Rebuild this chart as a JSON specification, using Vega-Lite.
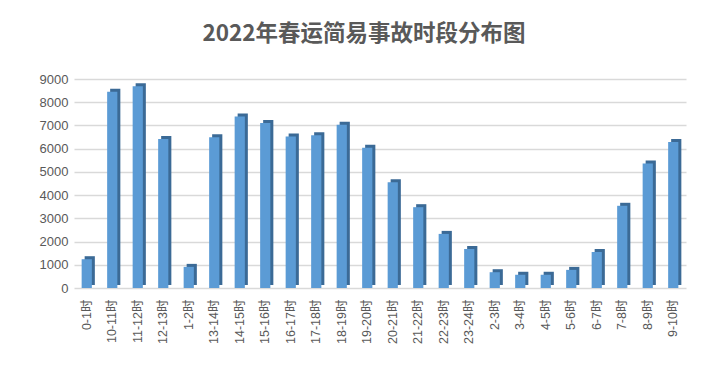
{
  "$schema": "https://vega.github.io/schema/vega-lite/v6.json",
  "width": 612,
  "height": 209,
  "autosize": "none",
  "padding": {"left": 74, "top": 79, "right": 42, "bottom": 80},
  "background": "white",
  "title": {
    "text": "2022年春运简易事故时段分布图",
    "font": "Noto Sans CJK SC",
    "fontSize": 22.5,
    "fontWeight": "bold",
    "color": "#595959",
    "anchor": "middle",
    "dx": -16,
    "offset": 28
  },
  "data": {
    "values": [
      {"t": "0-1时", "v": 1240},
      {"t": "10-11时", "v": 8450},
      {"t": "11-12时", "v": 8690},
      {"t": "12-13时", "v": 6420},
      {"t": "1-2时", "v": 910},
      {"t": "13-14时", "v": 6490},
      {"t": "14-15时", "v": 7390},
      {"t": "15-16时", "v": 7100},
      {"t": "16-17时", "v": 6520},
      {"t": "17-18时", "v": 6580},
      {"t": "18-19时", "v": 7030},
      {"t": "19-20时", "v": 6040},
      {"t": "20-21时", "v": 4550},
      {"t": "21-22时", "v": 3480},
      {"t": "22-23时", "v": 2330},
      {"t": "23-24时", "v": 1680},
      {"t": "2-3时", "v": 680},
      {"t": "3-4时", "v": 570},
      {"t": "4-5时", "v": 570},
      {"t": "5-6时", "v": 780},
      {"t": "6-7时", "v": 1550},
      {"t": "7-8时", "v": 3540},
      {"t": "8-9时", "v": 5360},
      {"t": "9-10时", "v": 6290}
    ]
  },
  "encoding": {
    "x": {
      "field": "t",
      "type": "nominal",
      "sort": null,
      "scale": {"paddingInner": 0.6, "paddingOuter": 0.3},
      "axis": {
        "title": null,
        "labelAngle": -90,
        "labelFont": "Liberation Sans, Noto Sans CJK SC",
        "labelFontSize": 12.5,
        "labelColor": "#595959",
        "labelPadding": 11,
        "ticks": false,
        "domain": false
      }
    },
    "y": {
      "field": "v",
      "type": "quantitative",
      "scale": {"domain": [0, 9000], "nice": false},
      "axis": {
        "title": null,
        "values": [0, 1000, 2000, 3000, 4000, 5000, 6000, 7000, 8000, 9000],
        "format": "d",
        "labelFont": "Liberation Sans",
        "labelFontSize": 13,
        "labelColor": "#595959",
        "labelPadding": 6,
        "ticks": false,
        "domain": false,
        "grid": true,
        "gridColor": "#d9d9d9",
        "gridWidth": 1.5
      }
    }
  },
  "layer": [
    {
      "mark": {"type": "bar", "color": "#3b6a96", "xOffset": 3, "yOffset": -3}
    },
    {
      "mark": {"type": "bar", "color": "#5b9bd5"}
    }
  ],
  "config": {"view": {"stroke": null}}
}
